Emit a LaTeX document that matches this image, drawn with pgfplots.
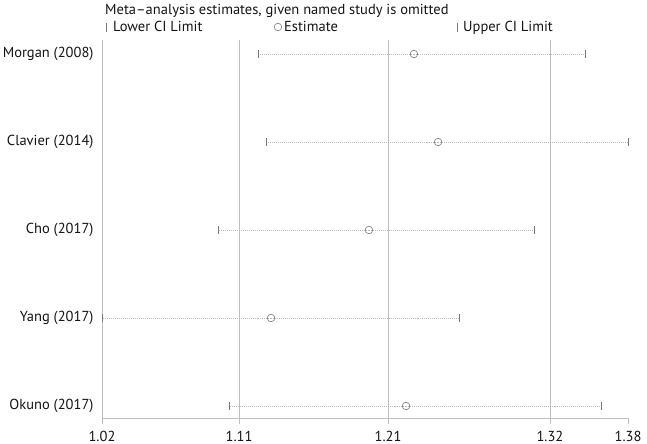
\documentclass[border=0pt]{standalone}
\usepackage{fontspec}
\setmainfont{PT Sans}
\usepackage{pgfplots}
\usepackage{pgfplotstable}
\pgfplotsset{compat=1.18}
\definecolor{gridGray}{RGB}{190,190,190}
\definecolor{dotGray}{RGB}{185,185,185}
\definecolor{markGray}{RGB}{120,120,120}
\definecolor{inkText}{RGB}{20,20,20}

% omitted-study estimates: y row, estimate, lower and upper CI
\pgfplotstableread{
y est lo hi
5 1.2335 1.1268 1.3506
4 1.2500 1.1323 1.3800
3 1.2027 1.0994 1.3157
2 1.1357 1.0200 1.2644
1 1.2281 1.1069 1.3615
}\omitted

\begin{document}
\begin{tikzpicture}
\useasboundingbox (-102bp,-26bp) rectangle (545bp,418bp);
\begin{axis}[
    scale only axis, width=526bp, height=378bp,
    xmin=1.02, xmax=1.38, ymin=0.8636, ymax=5.159,
    axis lines=left,
    axis line style={gridGray, line width=0.8pt, -},
    xtick={1.02,1.1138,1.2158,1.3266,1.38},
    xticklabels={1.02,1.11,1.21,1.32,1.38},
    x tick style={gridGray, line width=0.8pt},
    tick align=outside, major tick length=6bp,
    ytick={1,2,3,4,5},
    yticklabels={Okuno (2017),Yang (2017),Cho (2017),Clavier (2014),Morgan (2008)},
    y tick style={draw=none},
    extra x ticks={1.1138,1.2158,1.3266},
    extra x tick labels={},
    extra x tick style={grid=major, major grid style={gridGray, line width=0.8pt}},
    tick label style={font=\fontsize{14.5bp}{16bp}\selectfont, text=inkText},
    yticklabel style={xshift=1bp},
    xticklabel style={yshift=-3.5bp},
    clip=false,
]
\addplot[only marks, mark=o, mark size=3.8bp, mark options={markGray, line width=0.6pt},
    error bars/.cd, x dir=both, x explicit,
    error mark=|, error mark options={solid, markGray, mark size=4.2bp, line width=0.6pt},
    error bar style={dotGray, line width=0.6pt, dash pattern=on 0.6pt off 1.4pt}]
  table[x=est, y=y, x error plus expr=\thisrow{hi}-\thisrow{est},
        x error minus expr=\thisrow{est}-\thisrow{lo}] {\omitted};
\end{axis}
\node[anchor=base west, inner sep=0, font=\fontsize{14.5bp}{16bp}\selectfont, text=inkText] at (3bp,403bp)
  {Meta--analysis estimates, given named study is omitted};
\begin{scope}[font=\fontsize{14.5bp}{16bp}\selectfont, text=inkText]
  \draw[markGray, line width=0.6pt] (4bp,386bp) -- (4bp,395bp);
  \node[anchor=base west, inner sep=0] at (11bp,386bp) {Lower CI Limit};
  \draw[markGray, line width=0.6pt] (176bp,391bp) circle (3.8bp);
  \node[anchor=base west, inner sep=0] at (182bp,386bp) {Estimate};
  \draw[markGray, line width=0.6pt] (355bp,386bp) -- (355bp,395bp);
  \node[anchor=base west, inner sep=0] at (361bp,386bp) {Upper CI Limit};
\end{scope}
\end{tikzpicture}
\end{document}
